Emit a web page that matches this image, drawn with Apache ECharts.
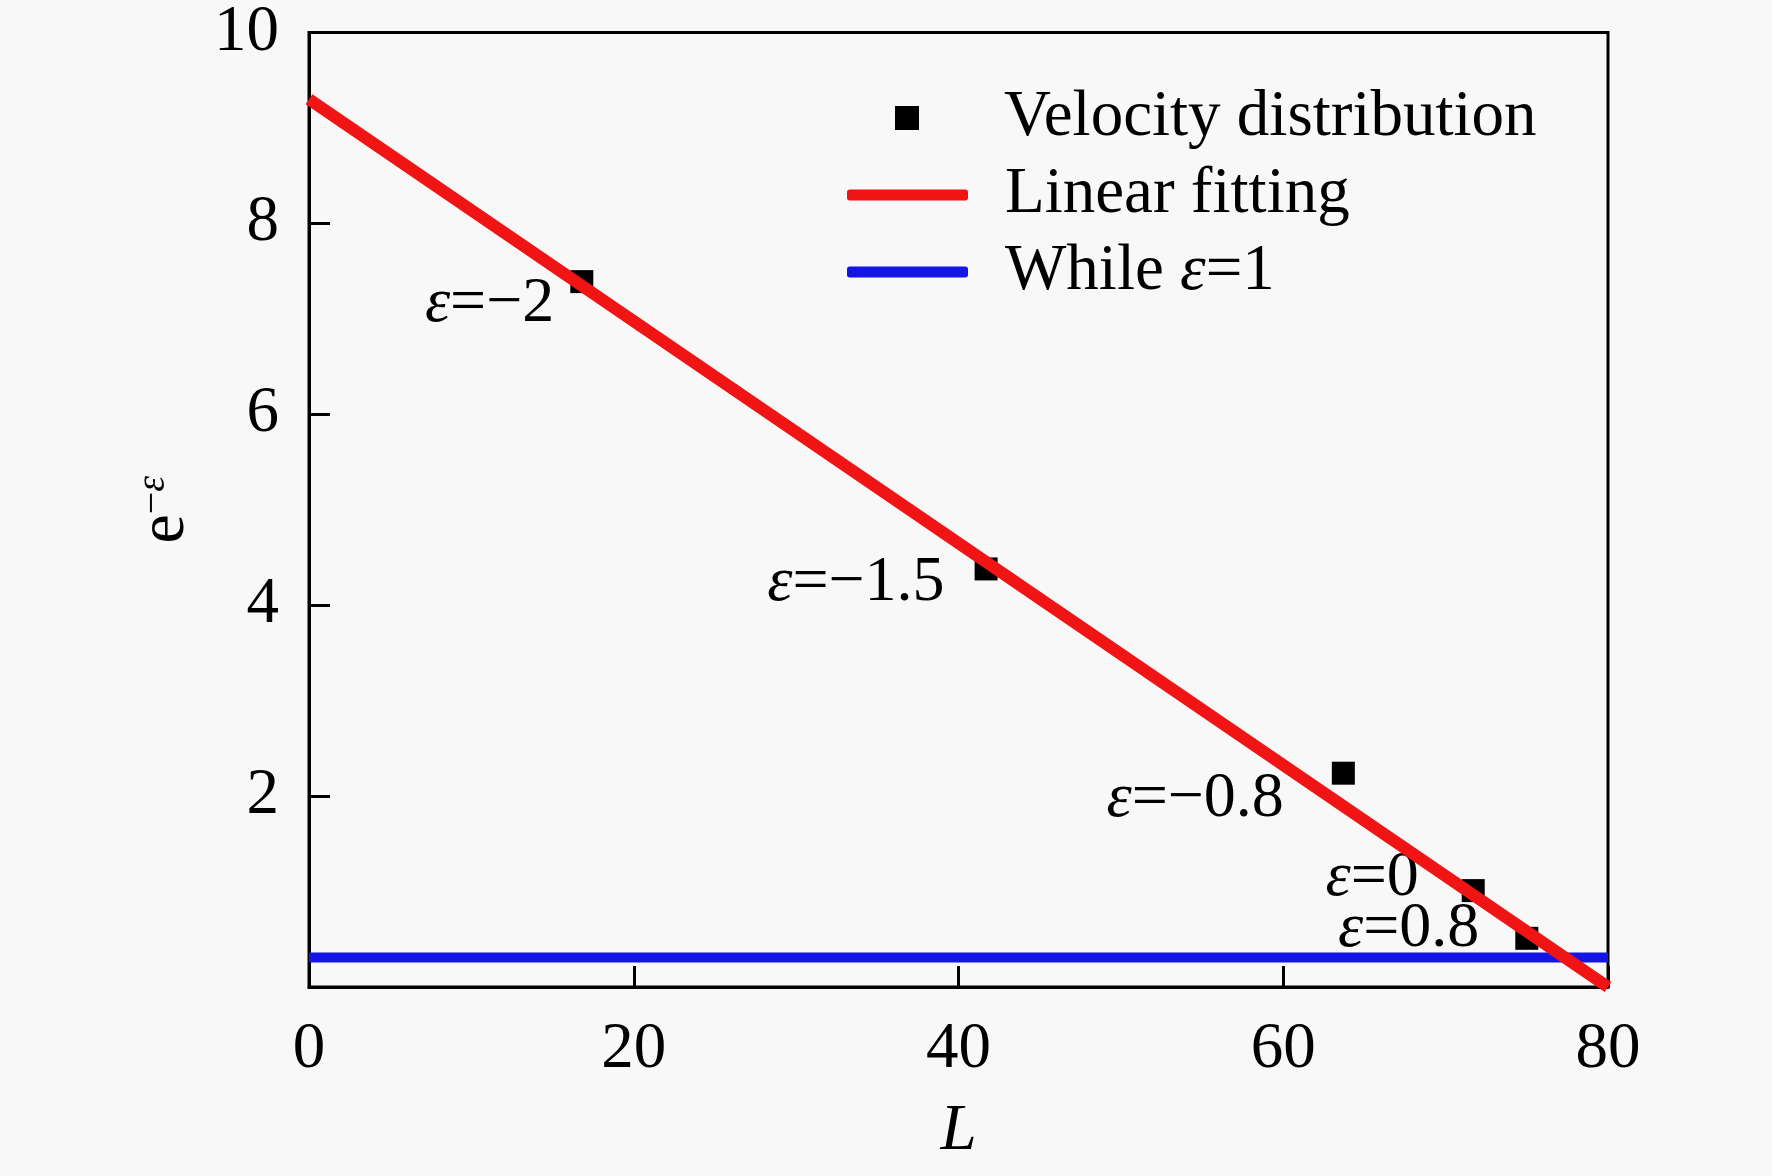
<!DOCTYPE html>
<html>
<head>
<meta charset="utf-8">
<script src="https://cdn.jsdelivr.net/npm/echarts@6/dist/echarts.min.js"></script>
<style>
  html, body { margin: 0; padding: 0; background: #f8f8f8; }
  #main { width: 1772px; height: 1176px; }
</style>
</head>
<body>
<div id="main"></div>
<script>
// measured points (L, e^-eps) and the eps value of each
var lengthL = [16.8, 41.7, 63.7, 71.7, 75.0];
var expEps = [7.39, 4.38, 2.24, 1.01, 0.51];
var epsLabels = ['−2', '−1.5', '−0.8', '0', '0.8'];
// fitted line, ends
var fitL = [0, 80];
var fitE = [9.3, 0.0];
// level of e^-1 line
var baseL = [0, 80];
var baseE = [0.31, 0.31];

var FONT = 'Liberation Serif';
// label nudges so the texts sit like in the figure
var labelNudge = [[-16, 23], [-30, 14], [-48, 26], [-43, -12], [-36, -9]];

function showChart() {
	var myChart = echarts.init(document.getElementById('main'));
	var option = createOption();
	myChart.setOption(option);
}

function pairs(xs, ys) {
	var out = [];
	for (var i = 0; i < xs.length; i++) {
		out.push([xs[i], ys[i]]);
	}
	return out;
}

function createOption() {
	var scatterData = [];
	for (var i = 0; i < lengthL.length; i++) {
		scatterData.push({
			value: [lengthL[i], expEps[i]],
			label: { offset: labelNudge[i] },
			epsText: epsLabels[i]
		});
	}
	var italic = { fontFamily: FONT, fontSize: 64, fontStyle: 'italic', color: '#000' };
	var legendText = {
		fontFamily: FONT, fontSize: 65, color: '#000', lineHeight: 70,
		rich: { i: { fontFamily: FONT, fontSize: 65, fontStyle: 'italic', color: '#000' } }
	};
	function legendFmt(name) {
		return name.replace('ε', '{i|ε}');
	}

	var option = {
		backgroundColor: '#f8f8f8',
		animation: false,
		grid: {
			left: 309, right: 164, top: 31, bottom: 189,
			show: true, borderColor: '#000', borderWidth: 3
		},
		legend: [{
			data: ['Velocity distribution'],
			left: 895, top: 83, padding: 0,
			itemWidth: 24, itemHeight: 24, icon: 'rect',
			itemStyle: { opacity: 1 },
			textStyle: Object.assign({ padding: [0, 0, 0, 80] }, legendText),
			formatter: legendFmt
		}, {
			data: ['Linear fitting'],
			left: 847, top: 160, padding: 0,
			itemWidth: 121, itemHeight: 11, icon: 'roundRect',
			textStyle: Object.assign({ padding: [0, 0, 0, 32] }, legendText),
			formatter: legendFmt
		}, {
			data: ['While ε=1'],
			left: 847, top: 237, padding: 0,
			itemWidth: 121, itemHeight: 11, icon: 'roundRect',
			textStyle: Object.assign({ padding: [0, 0, 0, 32] }, legendText),
			formatter: legendFmt
		}],
		xAxis: {
			type: 'value', min: 0, max: 80, interval: 20,
			name: 'L', nameLocation: 'middle', nameGap: 112,
			nameTextStyle: { fontFamily: FONT, fontSize: 65, fontStyle: 'italic', color: '#000' },
			axisLine: { lineStyle: { color: '#000', width: 3 } },
			axisTick: { inside: true, length: 21, lineStyle: { color: '#000', width: 3 } },
			axisLabel: { fontFamily: FONT, fontSize: 65, color: '#000', margin: 30 },
			splitLine: { show: false }
		},
		yAxis: {
			type: 'value', min: 0, max: 10, interval: 2,
			name: '{e|e}{m|−}{s|ε}', nameLocation: 'middle', nameRotate: 90, nameGap: 110,
			nameTextStyle: {
				fontFamily: FONT, fontSize: 66, color: '#000',
				rich: {
					e: { fontFamily: FONT, fontSize: 66, color: '#000', lineHeight: 66 },
					m: { fontFamily: FONT, fontSize: 40, color: '#000', verticalAlign: 'top', lineHeight: 40 },
					s: { fontFamily: FONT, fontSize: 40, fontStyle: 'italic', color: '#000', verticalAlign: 'top', lineHeight: 40 }
				}
			},
			axisLine: { lineStyle: { color: '#000', width: 3 } },
			axisTick: { inside: true, length: 21, lineStyle: { color: '#000', width: 3 } },
			axisLabel: {
				fontFamily: FONT, fontSize: 65, color: '#000', margin: 30,
				formatter: function (v) { return v === 0 ? '' : String(v); }
			},
			splitLine: { show: false }
		},
		series: [{
			name: 'Velocity distribution',
			type: 'scatter',
			symbol: 'rect',
			symbolSize: 23,
			itemStyle: { color: '#000', opacity: 1 },
			data: scatterData,
			label: {
				show: true, position: 'left', distance: 0,
				fontFamily: FONT, fontSize: 64, color: '#000', opacity: 1,
				rich: { i: italic },
				formatter: function (p) { return '{i|ε}=' + p.data.epsText; }
			},
			z: 2
		}, {
			name: 'Linear fitting',
			type: 'line',
			showSymbol: false,
			data: pairs(fitL, fitE),
			itemStyle: { color: '#f01414' },
			lineStyle: { color: '#f01414', width: 12 },
			z: 4
		}, {
			name: 'While ε=1',
			type: 'line',
			showSymbol: false,
			data: pairs(baseL, baseE),
			itemStyle: { color: '#1414e6' },
			lineStyle: { color: '#1414e6', width: 10 },
			z: 3
		}]
	};
	return option;
}

showChart();
</script>
</body>
</html>
